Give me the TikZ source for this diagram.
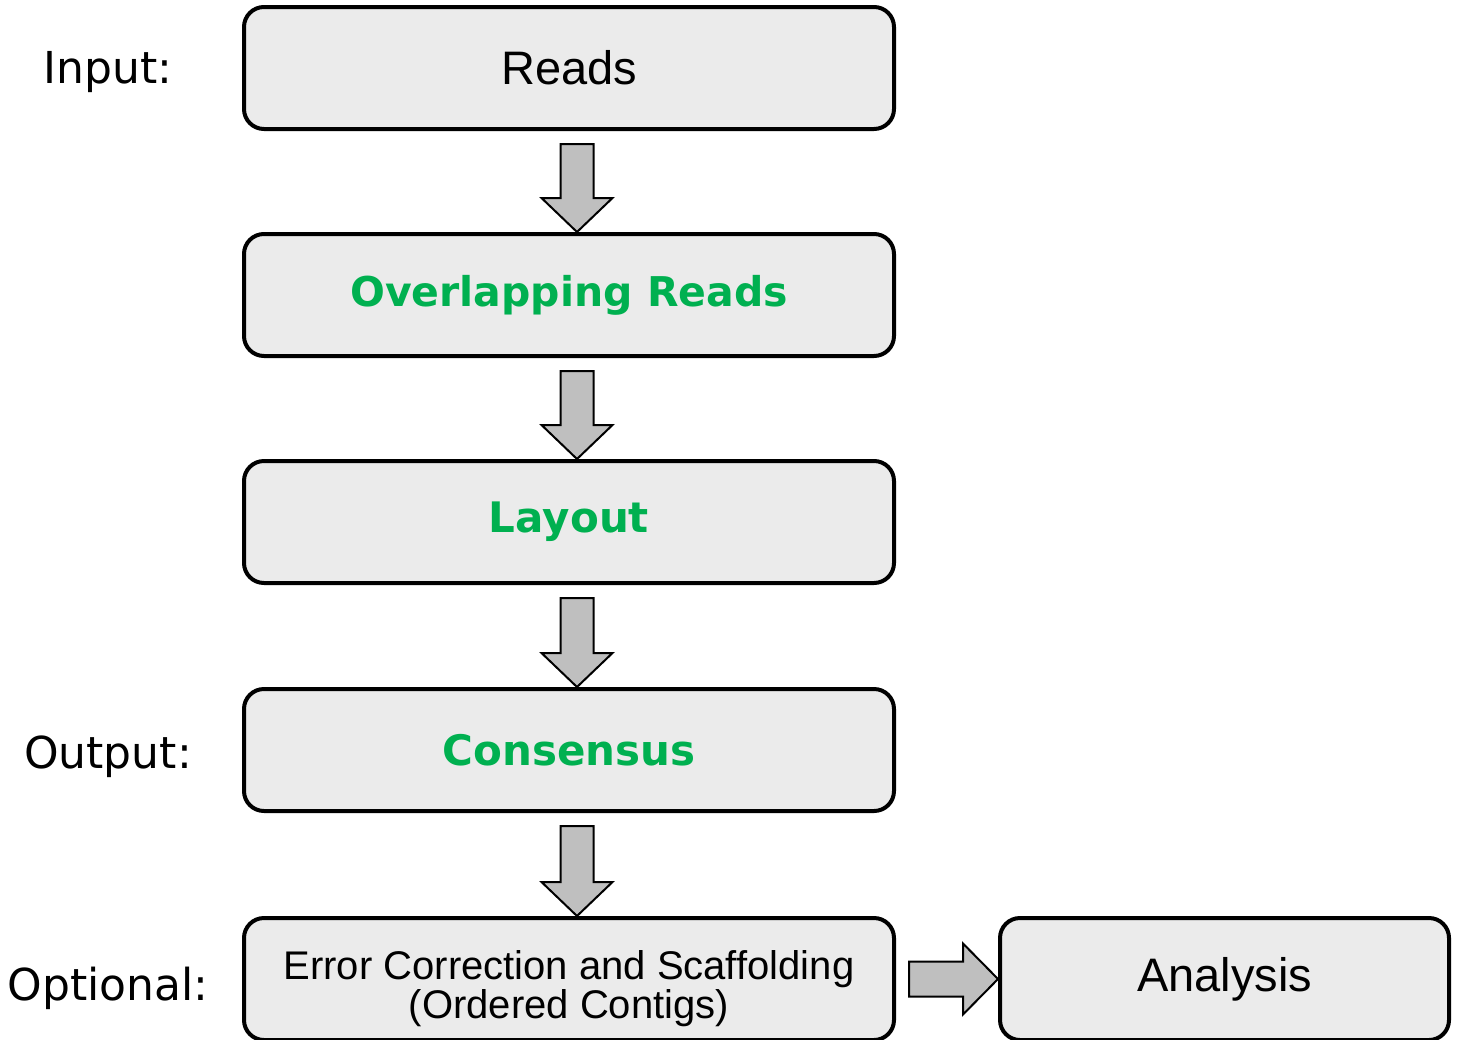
\documentclass[tikz,border=0pt]{standalone}
\usepackage{fontspec}
\setmainfont{Liberation Sans}
\newfontfamily\tahomalike{DejaVu Sans}
\usepackage{tikz}
\usetikzlibrary{calc,positioning}
\definecolor{BoxGray}{RGB}{235,235,235}
\definecolor{ArrowGray}{RGB}{191,191,191}
\definecolor{StepGreen}{RGB}{0,176,80}

\newcommand{\downblock}[2]{%
  \draw[blockarrow] ($(#1.south)+(-8.5,13)$) -- ($(#2.north)+(-8.5,-34)$)
    -- ($(#2.north)+(-27.5,-34)$) -- ($(#2.north)+(8,0)$)
    -- ($(#2.north)+(43.5,-34)$) -- ($(#2.north)+(24.5,-34)$)
    -- ($(#1.south)+(24.5,13)$) -- cycle;}

\begin{document}
\begin{tikzpicture}[
 x=1pt, y=-1pt,
 stage/.style={draw, line width=4pt, rounded corners=20pt, fill=BoxGray, minimum width=650pt, minimum height=122pt, inner sep=0pt, align=center, font=\fontsize{47}{56}\selectfont},
 greenstage/.style={stage, text=StepGreen, font=\tahomalike\bfseries\fontsize{42}{50}\selectfont},
 tag/.style={anchor=base, font=\tahomalike\fontsize{44}{52}\selectfont},
 blockarrow/.style={draw, line width=2pt, fill=ArrowGray, line join=miter}
]
\useasboundingbox (0,0) rectangle (1458,1039);

\node[stage]      (reads)    at (569,68)  {Reads};
\node[greenstage, font=\tahomalike\bfseries\fontsize{41}{50}\selectfont] (overlap)  at (569,295) {Overlapping Reads};
\node[greenstage] (layout)   at (569,522) {Layout};
\node[greenstage] (consensus) at (569,750) {Consensus};
\node[stage, font=\fontsize{40}{37}\selectfont] (scaffold) at (569,979) {\rule{0pt}{48pt}Error Correction and Scaffolding\\(Ordered Contigs)};
\node[stage, minimum width=449pt] (analysis) at (1224.5,979) {Analysis};

\node[tag] (input)    at (108,83)   {Input:};
\node[tag] (output)   at (108,768)  {Output:};
\node[tag] (optional) at (108,1000) {Optional:};

\downblock{reads}{overlap}
\downblock{overlap}{layout}
\downblock{layout}{consensus}
\downblock{consensus}{scaffold}

\draw[blockarrow] ($(scaffold.east)+(13,-17.5)$) -- ($(analysis.west)+(-35,-17.5)$)
  -- ($(analysis.west)+(-35,-35.5)$) -- ($(analysis.west)+(0,0)$)
  -- ($(analysis.west)+(-35,35.5)$) -- ($(analysis.west)+(-35,17.5)$)
  -- ($(scaffold.east)+(13,17.5)$) -- cycle;
\end{tikzpicture}
\end{document}
